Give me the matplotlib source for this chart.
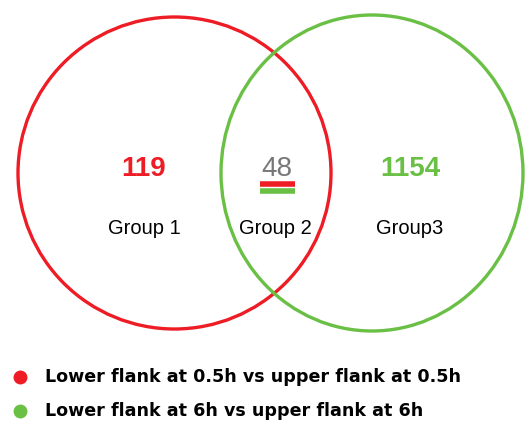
import matplotlib.pyplot as plt
from matplotlib.patches import Ellipse

# venn counts and labels
COUNTS = [119, 48, 1154]
GROUPS = ["Group 1", "Group 2", "Group3"]
COUNT_COLORS = ["#ee1c25", "#777777", "#6abf45"]
SETS = ["Lower flank at 0.5h vs upper flank at 0.5h",
        "Lower flank at 6h vs upper flank at 6h"]
SET_COLORS = ["#ee1c25", "#6abf45"]

fig = plt.figure(figsize=(5.25, 4.23), dpi=100)
ax = fig.add_axes([0, 0, 1, 1])
ax.set_xlim(0, 525)
ax.set_ylim(423, 0)
ax.set_aspect("equal")
ax.axis("off")

# two set outlines (pixel coords)
shapes = [((174.5, 173), 313, 312), ((372, 173), 302, 316)]
for ((cx, cy), w, h), col in zip(shapes, SET_COLORS):
    ax.add_patch(Ellipse((cx, cy), w, h, fill=False, edgecolor=col, linewidth=2.4))

# region labels
xs = [144, 277, 410]
for x, n, g, col in zip(xs, COUNTS, GROUPS, COUNT_COLORS):
    ax.text(x, 169, str(n), color=col, fontsize=20,
            fontweight="normal" if col == "#777777" else "bold",
            family="Liberation Sans", ha="center", va="center")
    ax.text(x if x != 277 else 275, 229, g, color="black", fontsize=14.5,
            family="Liberation Sans", ha="center", va="center")

# little bars under the shared count
ax.plot([260, 295], [184.5, 184.5], color=SET_COLORS[0], linewidth=4, solid_capstyle="butt")
ax.plot([260, 295], [191.5, 191.5], color=SET_COLORS[1], linewidth=4, solid_capstyle="butt")

# legend
for i, (lab, col) in enumerate(zip(SETS, SET_COLORS)):
    y = 377 + i * 34
    ax.plot(20, y, "o", color=col, markersize=9)
    ax.text(45, y, lab, fontsize=12.6, fontweight="bold", family="DejaVu Sans",
            ha="left", va="center")

fig.savefig("out.png", dpi=100)
